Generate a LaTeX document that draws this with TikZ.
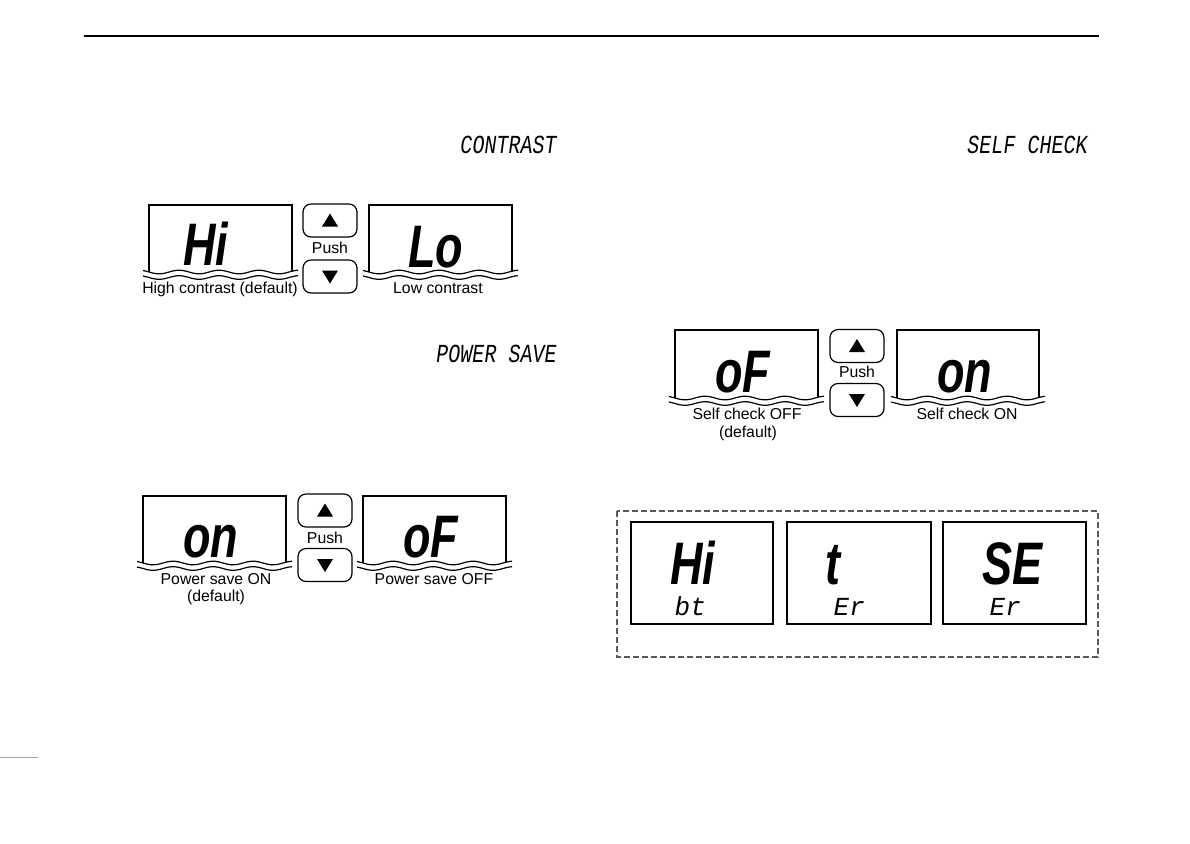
\documentclass[tikz,border=0pt]{standalone}
\usepackage{fontspec}
\setmainfont{Liberation Sans}
\newfontfamily\lcdbig{Liberation Sans}
\newfontfamily\lcdthin[FakeSlant=0.18]{Liberation Mono}
\tikzset{
  boxline/.style={line width=0.65pt},
  wave/.style={line width=0.6pt},
  btn/.style={draw, line width=0.6pt, rounded corners=4pt, minimum width=27pt, minimum height=16.5pt, inner sep=0pt},
  lbl/.style={font=\fontsize{7.9}{9.5}\selectfont, anchor=base, inner sep=0pt},
  big/.style={font=\lcdbig\bfseries\itshape\fontsize{30}{32}\selectfont, anchor=base west, inner sep=0pt},
  small/.style={font=\lcdthin\fontsize{13}{14}\selectfont, anchor=base west, inner sep=0pt},
  head/.style={font=\lcdthin\fontsize{13}{14}\selectfont, anchor=base east, inner sep=0pt},
}
% display with wavy bottom: x1, x2, top, wave y
\newcommand{\lcdwin}[4]{%
  \draw[boxline] (#1,#4) -- (#1,#3) -- (#2,#3) -- (#2,#4);
  \draw[wave] plot[domain=-6:{#2-#1+6}, samples=90, smooth] ({#1+\x},{#4+1.8*sin(9*\x)});
  \draw[wave] plot[domain=-6:{#2-#1+6}, samples=90, smooth] ({#1+\x},{#4+5.5+1.8*sin(9*\x)});
}
% button pair: name, cx, up centre y, push baseline, down centre y
\newcommand{\btnpair}[5]{%
  \node[btn] (#1up) at (#2,#3) {};
  \fill[shift={(#2,#3)}] (-8,6) -- (8,6) -- (0,-7) -- cycle;
  \node[lbl] (#1push) at (#2,#4) {Push};
  \node[btn] (#1dn) at (#2,#5) {};
  \fill[shift={(#2,#5)}] (-8,-6) -- (8,-6) -- (0,7) -- cycle;
}
\begin{document}
\begin{tikzpicture}[x=0.5pt,y=-0.5pt]
\useasboundingbox (0,0) rectangle (1190,843);
% top rule
\draw[line width=1.3pt] (84,36) -- (1099,36);
\draw[line width=0.4pt, black!35] (0,757) -- (38,757);

% headings
\node[head] (hcon) at (556,153) {\scalebox{0.77}[1]{CONTRAST}};
\node[head] (hpow) at (556,362) {\scalebox{0.77}[1]{POWER SAVE}};
\node[head] (hself) at (1087,153) {\scalebox{0.77}[1]{SELF CHECK}};

% ---- contrast
\lcdwin{149}{292}{205}{272}
\lcdwin{369}{512}{205}{272}
\btnpair{c}{330}{220.5}{253}{276.5}
\node[big] (chi) at (183,265) {\scalebox{0.75}[1]{Hi}};
\node[big] (clo) at (408,267) {\scalebox{0.75}[1]{Lo}};
\node[lbl] (clh) at (220,293) {High contrast (default)};
\node[lbl] (cll) at (438,293) {Low contrast};

% ---- power save
\lcdwin{143}{286}{496}{563}
\lcdwin{363}{506}{496}{563}
\btnpair{p}{325}{510.5}{543}{565}
\node[big] (pon) at (183,557) {\scalebox{0.75}[1]{on}};
\node[big] (pof) at (403,557) {\scalebox{0.75}[1]{oF}};
\node[lbl] (plon) at (216,584) {Power save ON};
\node[lbl] (pldef) at (216,601) {(default)};
\node[lbl] (ploff) at (434,584) {Power save OFF};

% ---- self check
\lcdwin{675}{818}{330}{398}
\lcdwin{897}{1039}{330}{398}
\btnpair{s}{857}{346}{377}{400}
\node[big] (sof) at (715,392) {\scalebox{0.75}[1]{oF}};
\node[big] (son) at (937,392) {\scalebox{0.75}[1]{on}};
\node[lbl] (sloff) at (747,419) {Self check OFF};
\node[lbl] (sldef) at (748,437) {(default)};
\node[lbl] (slon) at (967,419) {Self check ON};

% ---- error displays
\draw[dashed, line width=0.6pt, black!65, dash pattern=on 3pt off 1.5pt] (617,511) rectangle (1098,657);
\draw[boxline] (631,522) rectangle (773,624);
\draw[boxline] (787,522) rectangle (931,624);
\draw[boxline] (943,522) rectangle (1086,624);
\node[big] (ehi) at (670,584) {\scalebox{0.75}[1]{Hi}};
\node[small] (ebt) at (673,615) {bt};
\node[big] (et) at (825,584) {\scalebox{0.75}[1]{t}};
\node[small] (eer1) at (832,615) {Er};
\node[big] (ese) at (982,584) {\scalebox{0.75}[1]{SE}};
\node[small] (eer2) at (988,615) {Er};
\end{tikzpicture}
\end{document}
